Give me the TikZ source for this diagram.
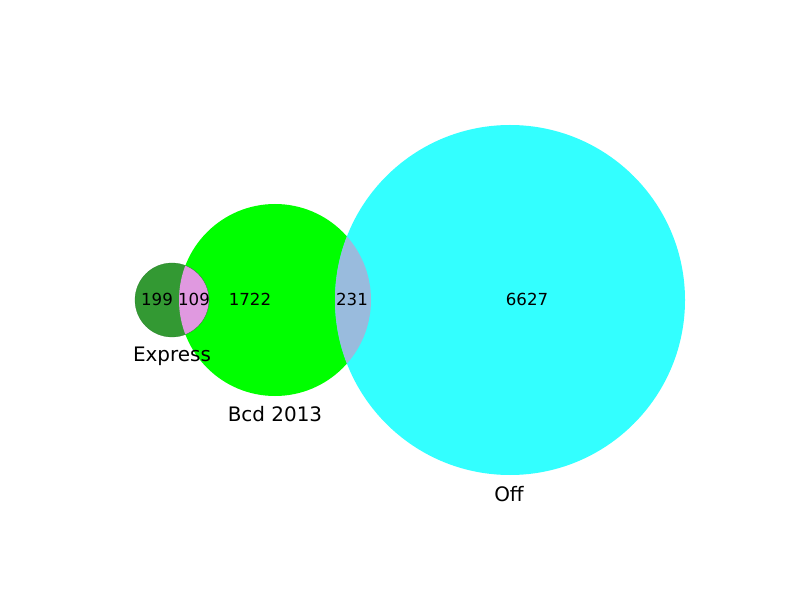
\documentclass[tikz,border=0pt]{standalone}
\usepackage{fontspec}
\setmainfont{DejaVu Sans}
\usepackage{tikz}

\definecolor{expressc}{RGB}{51,153,51}
\definecolor{bcdc}{RGB}{0,255,0}
\definecolor{offc}{RGB}{51,255,255}
\definecolor{expbcdc}{RGB}{224,153,224}
\definecolor{bcdoffc}{RGB}{153,187,221}

\begin{document}
\begin{tikzpicture}[x=0.01in, y=-0.01in]

\useasboundingbox (0,0) rectangle (800,600);

\fill[bcdc] (275,300) circle (96);
\fill[offc] (510,300) circle (175);
\fill[expressc] (172,300) circle (37);

\begin{scope}
\clip (172,300) circle (37);
\fill[expbcdc] (275,300) circle (96);
\end{scope}

\begin{scope}
\clip (275,300) circle (96);
\fill[bcdoffc] (510,300) circle (175);
\end{scope}

\draw[expressc!85!black, very thin] (172,300) circle (37);

\node[font=\fontsize{12}{14}\selectfont] at (157,299) (n1)  {199};
\node[font=\fontsize{12}{14}\selectfont] at (194,299) (n2)  {109};
\node[font=\fontsize{12}{14}\selectfont] at (250,299) (n3)  {1722};
\node[font=\fontsize{12}{14}\selectfont] at (352,299) (n4)  {231};
\node[font=\fontsize{12}{14}\selectfont] at (527,299) (n5)  {6627};

\node[font=\fontsize{14.4}{17}\selectfont] at (172,356) (l1)  {Express};
\node[font=\fontsize{14.4}{17}\selectfont] at (275,414) (l2)  {Bcd 2013};
\node[font=\fontsize{14.4}{17}\selectfont] at (509,494) (l3)  {Off};

\end{tikzpicture}
\end{document}
